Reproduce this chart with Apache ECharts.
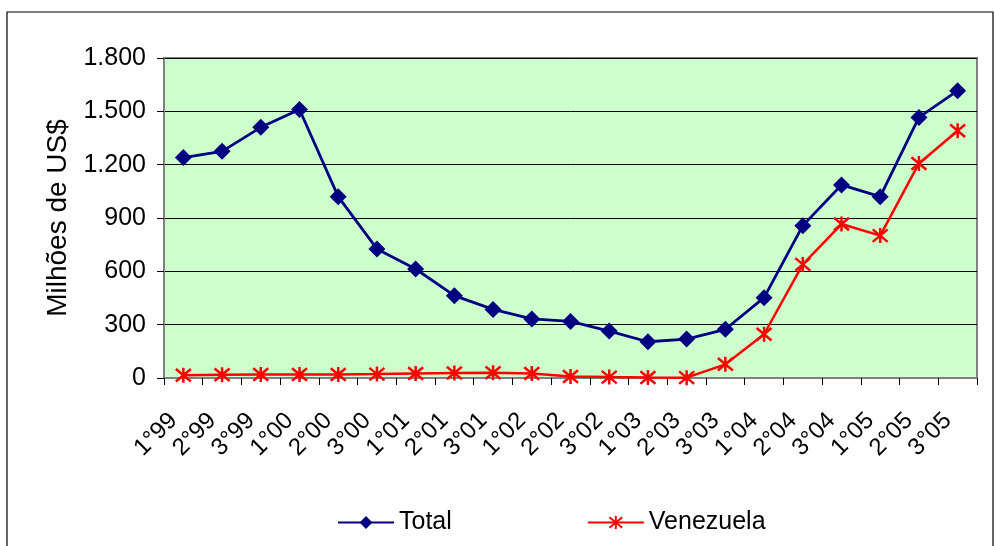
<!DOCTYPE html>
<html><head><meta charset="utf-8">
<script src="https://cdn.jsdelivr.net/npm/echarts@6/dist/echarts.min.js"></script>
<style>html,body{margin:0;padding:0;background:#fff}#c{width:995px;height:546px}</style>
</head><body><div id="c"></div>
<script>
const categories = ['1°99','2°99','3°99','1°00','2°00','3°00','1°01','2°01','3°01','1°02','2°02','3°02','1°03','2°03','3°03','1°04','2°04','3°04','1°05','2°05','3°05'];
const totalValues = [1240,1275,1410,1510,1020,726,613,463,386,332,318,264,204,219,274,452,857,1086,1020,1466,1616];
const venezuelaValues = [15,18,20,20,20,22,25,28,30,25,8,5,3,2,77,246,639,866,801,1207,1391];
const yTicks = [0,300,600,900,1200,1500,1800];
const yAxisTitle = 'Milhões de US$';

const chart = echarts.init(document.getElementById('c'));
const fmt = v => String(v).replace(/\B(?=(\d{3})+(?!\d))/g, '.');
const font = 'Liberation Sans, Arial, sans-serif';
const asterisk = 'path://M0,0L10,10M10,0L0,10M5,-1L5,11';
chart.setOption({
  animation: false,
  backgroundColor: '#fff',
  graphic: [{type:'rect', shape:{x:7,y:12,width:986,height:560}, style:{fill:'none', stroke:'#000', lineWidth:1.2}, silent:true}],
  grid: {left:164, right:18, top:58, bottom:168, show:true, backgroundColor:'#CCFFCC', borderColor:'#808080', borderWidth:2},
  legend: {
    top: 505, left: 332, itemGap: 135, itemWidth: 56, itemHeight: 16,
    textStyle: {fontFamily: font, fontSize: 25, color: '#000'},
    data: [{name:'Total'}, {name:'Venezuela'}]
  },
  xAxis: {
    type: 'category', data: categories, boundaryGap: true,
    axisLine: {show:true, lineStyle:{color:'#808080', width:2}},
    axisTick: {show:true, length:7, lineStyle:{color:'#000'}, interval:0},
    axisLabel: {rotate:45, interval:0, fontFamily:font, fontSize:24, color:'#000', margin:29, padding:[0,14,0,0]}
  },
  yAxis: {
    type: 'value', min: yTicks[0], max: yTicks[yTicks.length-1], interval: 300,
    name: yAxisTitle, nameLocation: 'middle', nameGap: 92,
    nameTextStyle: {fontFamily:font, fontSize:28, color:'#000'},
    axisLine: {show:true, lineStyle:{color:'#808080', width:2}},
    axisTick: {show:true, length:7, lineStyle:{color:'#000'}},
    axisLabel: {formatter: fmt, fontFamily:font, fontSize:25, color:'#000', margin:18},
    splitLine: {show:true, lineStyle:{color:'#000', width:1}}
  },
  series: [
    {name:'Total', type:'line', data: totalValues, symbol:'diamond', symbolSize:17,
     lineStyle:{color:'#000080', width:2.8}, itemStyle:{color:'#000080'}, z:3},
    {name:'Venezuela', type:'line', data: venezuelaValues, symbol: asterisk, symbolSize:15,
     lineStyle:{color:'#FF0000', width:2.5}, itemStyle:{color:'none', borderColor:'#FF0000', borderWidth:2.5}, z:4}
  ]
});
</script></body></html>
